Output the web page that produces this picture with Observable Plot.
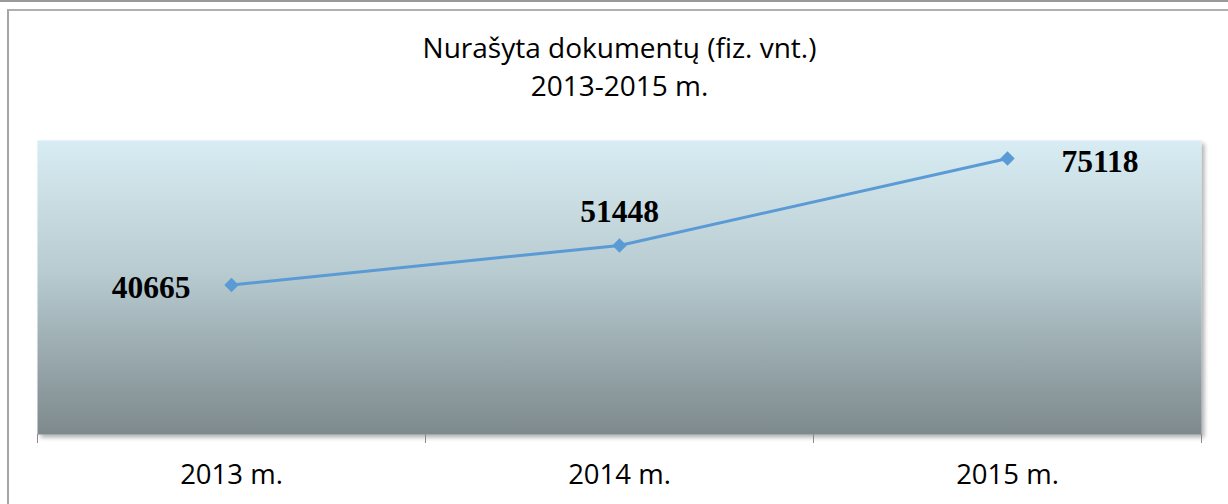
<!DOCTYPE html>
<html><head><meta charset="utf-8">
<script src="https://cdn.jsdelivr.net/npm/d3@7"></script>
<script src="https://cdn.jsdelivr.net/npm/@observablehq/plot@0.6"></script>
<style>
html,body{margin:0;padding:0;background:#fff;overflow:hidden;}
#wrap{position:relative;width:1228px;height:504px;}
#topline{position:absolute;left:0;top:0;width:1228px;height:2px;background:#9a9a9a;}
#box{position:absolute;left:7px;top:9px;width:1300px;height:600px;border-left:2px solid #a6a6a6;border-top:2px solid #b0b0b0;box-sizing:border-box;}
#chart{position:absolute;left:0;top:0;}
</style></head>
<body><div id="wrap"><div id="topline"></div><div id="box"></div><div id="chart"></div></div>
<script>
const title1 = "Nurašyta dokumentų (fiz. vnt.)";
const title2 = "2013-2015 m.";
const years = ["2013 m.", "2014 m.", "2015 m."];
const values = [40665, 51448, 75118];
const yDomain = [0, 80000];
const xTicks = [0, 1, 2, 3];

const data = years.map((y, i) => ({year: y, x: i + 0.5, value: values[i]}));
const font = "'Open Sans', 'Liberation Sans', sans-serif";
const labelStyle = {fontFamily: "'Liberation Serif', 'DejaVu Serif', serif", fontWeight: "bold", fontSize: 31.5, fill: "#000"};

const defs = () => {
  const ns = "http://www.w3.org/2000/svg";
  const g = document.createElementNS(ns, "defs");
  g.innerHTML = `<linearGradient id="bg" x1="0" y1="0" x2="0" y2="1">
     <stop offset="0" stop-color="#d8ecf3"/>
     <stop offset="0.45" stop-color="#b7cbd0"/>
     <stop offset="1" stop-color="#7d898d"/>
   </linearGradient>
   <filter id="sh" x="-5%" y="-5%" width="110%" height="115%">
     <feDropShadow dx="3" dy="3" stdDeviation="2" flood-color="#000" flood-opacity="0.3"/>
   </filter>`;
  return g;
};

const chart = Plot.plot({
  width: 1228,
  height: 504,
  marginLeft: 37,
  marginRight: 27,
  marginTop: 140,
  marginBottom: 70,
  style: {background: "transparent", overflow: "visible"},
  x: {type: "linear", domain: [0, 3], axis: null},
  y: {domain: yDomain, axis: null},
  marks: [
    defs,
    Plot.frame({fill: "url(#bg)", stroke: null}),
    Plot.axisX({ticks: xTicks, tickFormat: () => "", tickSize: 9, stroke: "#8a8a8a", label: null}),
    Plot.lineY(data, {x: "x", y: "value", stroke: "#5b9bd5", strokeWidth: 3}),
    Plot.dot(data, {x: "x", y: "value", symbol: "diamond2", r: 6.5, fill: "#5b9bd5", stroke: null}),
    Plot.text([data[0]], {x: "x", y: "value", text: d => String(d.value), textAnchor: "end", dx: -41, dy: 3, ...labelStyle}),
    Plot.text([data[1]], {x: "x", y: "value", text: d => String(d.value), dy: -34, ...labelStyle}),
    Plot.text([data[2]], {x: "x", y: "value", text: d => String(d.value), textAnchor: "start", dx: 54, dy: 3, ...labelStyle}),
    Plot.text(data, {x: "x", text: "year", frameAnchor: "bottom", lineAnchor: "middle", dy: 41, fontFamily: font, fontSize: 27.5, fill: "#000"}),
    Plot.text([title1], {frameAnchor: "top", lineAnchor: "middle", dy: -91, fontFamily: font, fontSize: 28, fill: "#000"}),
    Plot.text([title2], {frameAnchor: "top", lineAnchor: "middle", dy: -53, fontFamily: font, fontSize: 28, fill: "#000"})
  ]
});
const fr = chart.querySelector('[aria-label="frame"]');
if (fr) fr.setAttribute("filter", "url(#sh)");
document.getElementById("chart").appendChild(chart);
</script></body></html>
